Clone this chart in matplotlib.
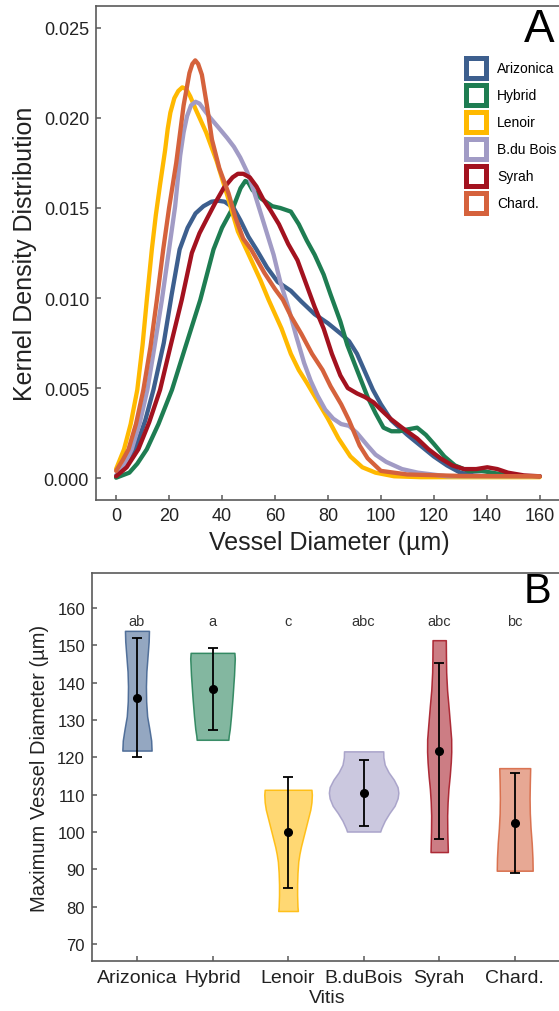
import numpy as np
import matplotlib
matplotlib.use("Agg")
import matplotlib.pyplot as plt
from matplotlib.patches import Patch
from matplotlib.colors import to_rgba

plt.rcParams['font.family'] = ['Liberation Sans', 'DejaVu Sans']

cultivars = ['Arizonica', 'Hybrid', 'Lenoir', 'B.du Bois', 'Syrah', 'Chard.']
colors = ['#3D5F8E', '#1E7D52', '#FFB900', '#A19BC5', '#A3121F', '#D5623C']

# --- kernel density curves (vessel diameter in um, density) ---
ariz_d = [0, 4, 7.2, 11, 14.1, 18, 21, 24, 27, 30, 33, 36, 38.7, 41, 44.4, 47, 50, 53, 57, 61,
          66, 70, 75, 80, 85, 88, 91, 94, 97, 100, 104, 110, 115, 120, 125, 130, 135, 140, 160]
ariz_v = [0.00013, 0.0007, 0.0016, 0.0032, 0.0049, 0.0075, 0.0102, 0.0127, 0.0139, 0.0147,
          0.0151, 0.01535, 0.0154, 0.01535, 0.0150, 0.0143, 0.0134, 0.0127, 0.0117, 0.0109,
          0.0104, 0.0098, 0.0091, 0.0086, 0.0080, 0.0076, 0.0069, 0.0059, 0.0049, 0.0041,
          0.0032, 0.0024, 0.0018, 0.0012, 0.0007, 0.0003, 0.00015, 0.0001, 0.0001]

hyb_d = [0, 5, 8, 11.6, 16, 21.1, 26, 31.8, 36.8, 40, 44.4, 47, 48.8, 50, 51.5, 55, 59, 62,
         66, 69, 72, 75, 78.4, 81, 84.7, 87.3, 91, 95, 98, 101, 104, 107, 110, 113.7, 117,
         120, 124, 128, 133, 138, 142, 148, 154, 160]
hyb_v = [0.00002, 0.0003, 0.0008, 0.0016, 0.0030, 0.0049, 0.0072, 0.0099, 0.0127, 0.0139,
         0.0151, 0.0161, 0.0165, 0.0164, 0.0160, 0.0155, 0.0151, 0.0150,
         0.0148, 0.0141, 0.0132, 0.0124, 0.0113, 0.0102, 0.0087, 0.0074, 0.0060, 0.0045,
         0.0036, 0.0028, 0.0026, 0.0026, 0.0027, 0.0028, 0.0024,
         0.0019, 0.0012, 0.0007, 0.0004, 0.0004, 0.0003, 0.00015, 0.0001, 0.0001]

len_d = [0, 3, 5.5, 8, 10, 11.6, 13.5, 15, 16.6, 18.5, 19.5, 20.5, 22, 23.5, 25, 26.5, 28, 30,
         34, 38, 42, 46, 49.5, 54.5, 57.6, 62.5, 66, 69, 72, 76, 80, 84, 88.5, 93, 98, 105,
         115, 160]
len_v = [0.0005, 0.0016, 0.0030, 0.0049, 0.0074, 0.0099, 0.0127, 0.0146, 0.0163, 0.0182,
         0.0194, 0.0203, 0.0211, 0.0215, 0.0217, 0.0216, 0.0212, 0.0205,
         0.0192, 0.0176, 0.0157, 0.0137, 0.0126, 0.0110, 0.0099, 0.0083, 0.0069, 0.0060,
         0.0053, 0.0043, 0.0033, 0.0022, 0.0012, 0.0006, 0.0003, 0.0001,
         0.00005, 0.00005]

bdb_d = [0, 3, 5.9, 9, 11.8, 14.5, 17.3, 20, 22.3, 24.2, 25.5, 26.8, 28.3, 30, 31.5, 33,
         35.6, 38.5, 41.9, 44.5, 46.9, 49.5, 51.9, 55.7, 59.5, 62, 65, 68, 71, 73.5, 76, 79,
         82, 85, 88, 91, 95, 98, 102, 108, 114, 125, 160]
bdb_v = [0.00015, 0.0007, 0.0016, 0.0031, 0.0049, 0.0073, 0.0099, 0.0127, 0.0151, 0.0179,
         0.0192, 0.0201, 0.0207, 0.0209, 0.0208, 0.0205,
         0.0200, 0.0195, 0.0189, 0.0184, 0.0178, 0.0170, 0.0160, 0.0142, 0.0124, 0.0109,
         0.0095, 0.0079, 0.0064, 0.0054, 0.0046, 0.0038,
         0.0033, 0.0030, 0.0029, 0.0025, 0.0018, 0.0013, 0.0009, 0.0005, 0.0003, 0.0001,
         0.0001]

syr_d = [0, 4, 8.4, 12.5, 16.6, 20.5, 24.8, 28.6, 31.5, 34.3, 37.5, 40.6, 44, 46, 48, 50.5,
         53, 55.5, 58.2, 61.5, 65, 68.5, 72, 75, 78.4, 81.5, 84.7, 87.5, 91, 94, 97.3, 100,
         103.6, 108, 113.7, 118, 122.5, 127, 131.4, 136, 140.2, 144, 148, 154, 160]
syr_v = [0.0001, 0.0006, 0.0016, 0.0031, 0.0049, 0.0073, 0.0099, 0.0125, 0.0136, 0.0144,
         0.0153, 0.0161, 0.0167, 0.0169, 0.0169, 0.0167,
         0.0162, 0.0155, 0.0149, 0.0141, 0.0130, 0.0121, 0.0107, 0.0095, 0.0083, 0.0069,
         0.0057, 0.0050, 0.0047, 0.0045, 0.0042, 0.0038,
         0.0033, 0.0028, 0.0022, 0.0016, 0.0011, 0.0007, 0.0005, 0.0005, 0.0006, 0.0005,
         0.0003, 0.00015, 0.0001]

chd_d = [0, 2.5, 4.7, 7.5, 10.3, 13, 15.4, 17.8, 20, 22.7, 25.5, 27.7, 28.8, 29.9, 31, 32.4,
         34.3, 36.2, 39, 42.5, 45, 48, 51, 56, 60, 63, 66, 70, 74, 78, 81, 85, 88, 92, 95,
         100, 110, 130, 160]
chd_v = [0.0004, 0.0010, 0.0016, 0.0030, 0.0049, 0.0073, 0.0099, 0.0127, 0.0150, 0.0175,
         0.0207, 0.0225, 0.0230, 0.0232, 0.0230, 0.0224,
         0.0207, 0.0188, 0.0172, 0.0158, 0.0145, 0.0133, 0.0127, 0.0114, 0.0105, 0.0099,
         0.0090, 0.0080, 0.0069, 0.0060, 0.0051, 0.0041, 0.0032, 0.0018, 0.0011,
         0.0004, 0.0002, 0.00012, 0.0001]

kde_x = [ariz_d, hyb_d, len_d, bdb_d, syr_d, chd_d]
kde_y = [ariz_v, hyb_v, len_v, bdb_v, syr_v, chd_v]

# --- maximum vessel diameter: violin outlines, means and SD ---
vitis = ['Arizonica', 'Hybrid', 'Lenoir', 'B.duBois', 'Syrah', 'Chard.']
letters = ['ab', 'a', 'c', 'abc', 'abc', 'bc']
means = [136.0, 138.4, 99.9, 110.5, 121.7, 102.3]
sds = [16.0, 11.0, 14.8, 8.9, 23.7, 13.4]

viol_y = [
    [153.9, 151, 147, 143, 139, 135, 131, 127.5, 124.5, 121.8],
    [148, 146.5, 142, 136, 131, 127.5, 125.8, 124.7],
    [111.3, 110, 108, 106, 104, 102, 100, 98, 96, 94, 92, 89, 86, 83, 80, 78.8],
    [121.6, 120, 118, 116, 114, 112, 110.5, 109, 107, 105, 103, 101, 100.1],
    [151.4, 147, 142.8, 138, 133.9, 129, 124.9, 121.5, 118.7, 115, 111.5, 108, 104.4, 100, 97, 94.6],
    [117.1, 113, 109, 105, 101, 97, 93, 89.6],
]
viol_w = [
    [0.159, 0.155, 0.14, 0.125, 0.119, 0.122, 0.135, 0.165, 0.188, 0.194],
    [0.29, 0.295, 0.285, 0.265, 0.245, 0.228, 0.215, 0.21],
    [0.31, 0.315, 0.31, 0.295, 0.27, 0.245, 0.22, 0.195, 0.17, 0.15, 0.135, 0.125, 0.12, 0.12, 0.125, 0.13],
    [0.26, 0.262, 0.28, 0.33, 0.40, 0.45, 0.46, 0.45, 0.41, 0.34, 0.28, 0.235, 0.22],
    [0.088, 0.09, 0.093, 0.105, 0.123, 0.143, 0.159, 0.16, 0.154, 0.14, 0.123, 0.112, 0.106, 0.108, 0.112, 0.115],
    [0.205, 0.2, 0.197, 0.2, 0.21, 0.225, 0.235, 0.238],
]

text_col = '#222222'
spine_col = '#5a5a5a'

fig = plt.figure(figsize=(5.59, 10.12), dpi=100)


def style_axes(ax, size):
    for side in ['left', 'bottom', 'top', 'right']:
        ax.spines[side].set_color(spine_col)
        ax.spines[side].set_linewidth(1.2)
    ax.tick_params(direction='in', length=3.8, width=1.1, color=spine_col,
                   labelsize=size, labelcolor=text_col, pad=5)


# panel A
axA = fig.add_axes([0.1717, 0.5049, 0.835, 0.4882])
for xs, ys, c, name in zip(kde_x, kde_y, colors, cultivars):
    axA.plot(xs, ys, color=c, lw=3.1, solid_joinstyle='round', solid_capstyle='round', label=name)
axA.set_xlim(-7.6, 168.7)
axA.set_ylim(-0.00122, 0.02622)
axA.set_xticks(np.arange(0, 161, 20))
axA.set_yticks(np.arange(0, 0.0251, 0.005))
axA.yaxis.set_major_formatter(matplotlib.ticker.FormatStrFormatter('%.3f'))
style_axes(axA, 13)
axA.set_xlabel('Vessel Diameter (µm)', fontsize=18, color=text_col, labelpad=4)
axA.set_ylabel('Kernel Density Distribution', fontsize=18, color=text_col, labelpad=5)

# hollow square keys
handles = [Patch(facecolor='white', edgecolor=c, linewidth=3.6) for c in colors]
axA.legend(handles, cultivars, loc='upper left', bbox_to_anchor=(0.8336, 0.9417),
           bbox_transform=fig.transFigure, frameon=False, fontsize=10,
           handlelength=1.43, handleheight=1.84, labelspacing=0.5,
           handletextpad=0.8, borderpad=0, borderaxespad=0)
fig.text(0.964, 0.970, 'A', fontsize=33, ha='center', va='center', color='black')

# panel B
axB = fig.add_axes([0.1646, 0.0494, 0.84, 0.3834])
pos = np.arange(1, len(vitis) + 1)
for p, ys, ws, c in zip(pos, viol_y, viol_w, colors):
    ys = np.array(ys)
    ws = np.array(ws)
    axB.fill_betweenx(ys, p - ws, p + ws, facecolor=to_rgba(c, 0.55),
                      edgecolor=to_rgba(c, 0.85), linewidth=1.1, zorder=2)
axB.errorbar(pos, means, yerr=sds, fmt='o', color='black', ms=5.5, elinewidth=1.3,
             capsize=3.8, capthick=1.3, zorder=3)
for p, lab in zip(pos, letters):
    axB.text(p, 156.6, lab, ha='center', va='center', fontsize=10.5, color='#333333')
axB.set_xlim(0.405, 6.62)
axB.set_ylim(65.4, 169.4)
axB.set_xticks(pos)
axB.set_xticklabels(vitis)
axB.set_yticks(np.arange(70, 161, 10))
style_axes(axB, 12)
axB.tick_params(axis='x', labelsize=14, pad=6)
axB.set_xlabel('Vitis', fontsize=14, color=text_col, labelpad=2)
axB.set_ylabel('Maximum Vessel Diameter (µm)', fontsize=14.5, color=text_col, labelpad=6)
fig.text(0.962, 0.415, 'B', fontsize=30, ha='center', va='center', color='black')

fig.savefig('out.png', dpi=100)
